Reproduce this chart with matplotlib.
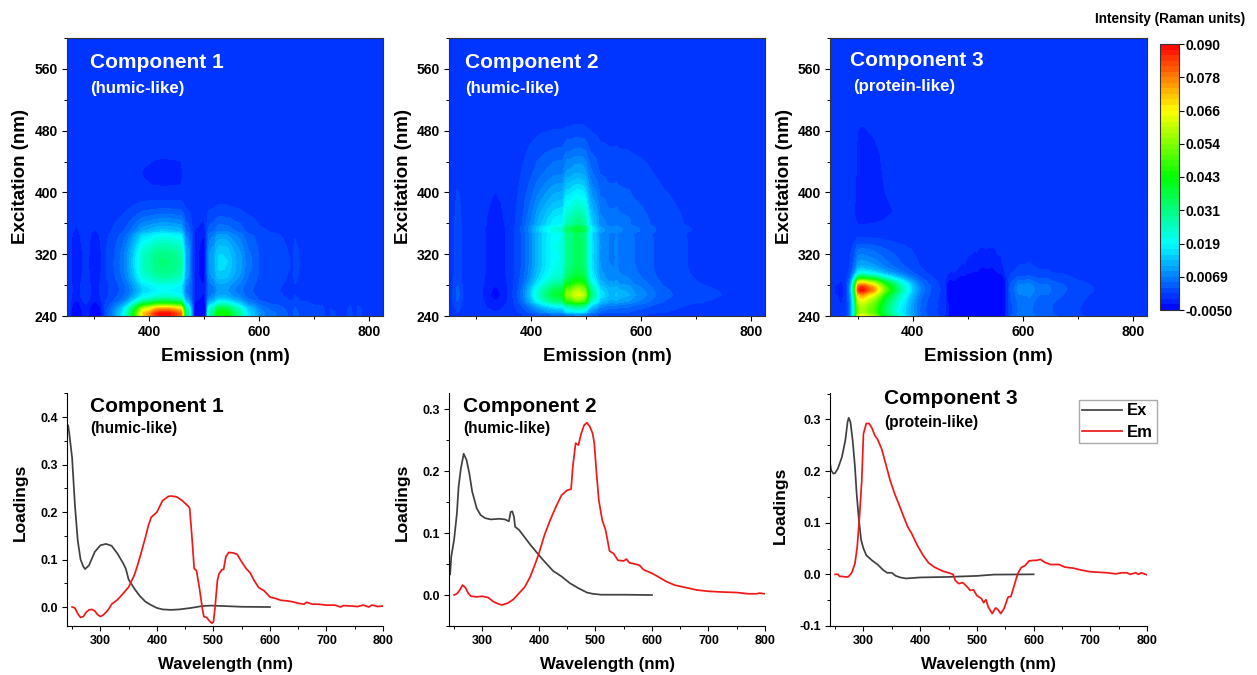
import numpy as np
import matplotlib
matplotlib.use("Agg")
import matplotlib.pyplot as plt
from matplotlib.colors import LinearSegmentedColormap
from matplotlib.ticker import MultipleLocator

plt.rcParams['font.family'] = ['Liberation Sans', 'DejaVu Sans']
plt.rcParams['font.weight'] = 'bold'
plt.rcParams['axes.labelweight'] = 'bold'

W, H = 1257, 675

# Loadings
c1_ex_x = [240, 243, 245, 250, 255, 260, 265, 270, 273, 280, 285, 290, 300, 310, 320, 330, 340, 345, 350, 360,
           370, 380, 390, 400, 410, 425, 440, 460, 480, 495, 520, 550, 600]
c1_ex_y = [.375, .383, .366, .315, .215, .14, .1, .085, .08, .088, .102, .116, .13, .133, .129, .113, .093, .081,
           .058, .039, .023, .011, .004, -.002, -.005, -.006, -.005, -.002, .002, .003, .002, .0005, 0]
c1_em_x = [250, 255, 260, 265, 270, 275, 280, 285, 290, 295, 300, 305, 310, 315, 320, 330, 340, 350, 360, 365,
           370, 380, 385, 390, 400, 410, 420, 425, 435, 445, 455, 458, 462, 466, 470, 475, 480, 483, 488, 492,
           497, 500, 503, 507, 510, 515, 518, 522, 527, 535, 542, 550, 558, 565, 572, 580, 590, 600, 610, 620,
           630, 640, 650, 660, 665, 675, 685, 700, 715, 725, 730, 745, 755, 765, 775, 780, 785, 790, 800]
c1_em_y = [0, -.002, -.014, -.022, -.02, -.011, -.006, -.005, -.008, -.016, -.02, -.017, -.011, -.004, .006, .015,
           .028, .042, .067, .085, .105, .148, .172, .189, .2, .224, .233, .234, .232, .224, .213, .208, .148,
           .081, .077, .042, 0, -.02, -.022, -.028, -.034, -.032, 0, .056, .07, .079, .079, .106, .115, .114,
           .111, .095, .081, .072, .056, .041, .034, .021, .018, .014, .013, .011, .008, .006, .01, .006, .006,
           .004, .004, 0, .003, .002, .001, .004, 0, .004, .003, .001, .002]

c2_ex_x = [240, 243, 245, 250, 255, 258, 262, 267, 272, 277, 282, 290, 297, 305, 315, 330, 340, 347, 350, 353,
           356, 358, 365, 375, 385, 395, 405, 415, 425, 440, 455, 470, 485, 495, 510, 550, 600]
c2_ex_y = [.032, .033, .062, .089, .132, .175, .204, .228, .218, .196, .167, .14, .129, .124, .122, .123, .122,
           .119, .134, .135, .126, .11, .105, .093, .081, .07, .059, .049, .039, .03, .019, .011, .004, .002,
           .0005, .0005, 0]
c2_em_x = [250, 255, 260, 265, 270, 275, 280, 290, 300, 310, 320, 330, 335, 345, 355, 365, 375, 385, 395, 400,
           410, 420, 430, 440, 450, 457, 460, 465, 470, 475, 480, 485, 490, 495, 498, 502, 506, 512, 518, 525,
           532, 540, 550, 555, 560, 570, 578, 585, 600, 610, 625, 640, 660, 680, 700, 720, 750, 770, 785, 790, 800]
c2_em_y = [0, .002, .008, .016, .012, .003, -.002, -.003, -.002, -.004, -.011, -.015, -.016, -.013, -.007, .003,
           .013, .03, .054, .067, .097, .121, .142, .161, .169, .171, .207, .245, .242, .261, .274, .278, .272,
           .261, .245, .196, .153, .121, .105, .071, .067, .056, .055, .058, .052, .05, .048, .041, .035, .03,
           .022, .016, .012, .008, .006, .005, .004, .002, .002, .003, .002]

c3_ex_x = [240, 243, 247, 250, 255, 262, 268, 272, 274, 277, 281, 285, 288, 292, 296, 300, 305, 315, 325, 335,
           342, 350, 357, 365, 375, 400, 450, 500, 530, 600]
c3_ex_y = [.224, .201, .195, .196, .205, .227, .259, .295, .303, .295, .259, .208, .156, .105, .066, .05, .037,
           .027, .019, .008, .003, .003, -.003, -.006, -.008, -.006, -.005, -.003, -.0005, 0]
c3_em_x = [250, 255, 258, 262, 268, 273, 278, 280, 285, 289, 293, 297, 300, 305, 310, 315, 320, 325, 332, 340,
           347, 355, 362, 370, 378, 385, 395, 405, 415, 425, 440, 450, 458, 462, 468, 475, 482, 488, 494, 500,
           508, 512, 516, 520, 527, 533, 537, 542, 548, 555, 560, 566, 572, 578, 585, 592, 600, 605, 612, 620,
           630, 645, 655, 670, 685, 700, 715, 730, 745, 755, 765, 770, 780, 785, 790, 800]
c3_em_y = [0, 0, -.004, -.004, -.005, -.005, .001, .005, .021, .053, .111, .182, .272, .292, .292, .283, .269,
           .261, .243, .211, .182, .156, .137, .114, .092, .079, .056, .037, .022, .014, .006, .003, 0, -.012,
           -.018, -.016, -.023, -.031, -.03, -.041, -.047, -.055, -.049, -.063, -.076, -.065, -.068, -.076,
           -.066, -.044, -.043, -.021, .001, .013, .017, .026, .027, .027, .029, .023, .019, .019, .014, .012,
           .008, .005, .004, .003, .001, .003, .003, 0, .003, 0, .003, -.001]

cbar_labels = ['-0.0050', '0.0069', '0.019', '0.031', '0.043', '0.054', '0.066', '0.078', '0.090']
vmin, vmax = -0.005, 0.09

rainbow = LinearSegmentedColormap.from_list(
    'rb', ['#0000ff', '#00ffff', '#00ff00', '#ffff00', '#ff0000'])


def px_axes(left, top, right, bottom):
    return fig.add_axes([left / W, 1 - bottom / H, (right - left) / W, (bottom - top) / H])


def label_pos(ax, box, xlab_y, ylab_x, ylab_y):
    left, top, right, bottom = box
    ax.xaxis.set_label_coords(0.5, (bottom - xlab_y) / (bottom - top))
    ax.yaxis.set_label_coords((ylab_x - left) / (right - left), (bottom - ylab_y) / (bottom - top))


def note(x, y, s, size, color):
    fig.text(x / W, 1 - y / H, s, fontsize=size, color=color, va='center', ha='left', fontweight='bold')


fig = plt.figure(figsize=(W / 100, H / 100), dpi=100)

levels = np.linspace(vmin, vmax, 49)
bg = rainbow((0 - vmin) / (vmax - vmin))

maps = [
    ((67, 38, 383, 316), c1_ex_x, c1_ex_y, c1_em_x, c1_em_y),
    ((449, 38, 765, 316), c2_ex_x, c2_ex_y, c2_em_x, c2_em_y),
    ((830, 38, 1147, 316), c3_ex_x, c3_ex_y, c3_em_x, c3_em_y),
]
for box, ex_x, ex_y, em_x, em_y in maps:
    ax = px_axes(*box)
    ax.set_facecolor(bg)
    # a PARAFAC component map is the product of its two loadings
    Z = np.clip(np.outer(ex_y, em_y), vmin, vmax)
    cs = ax.contourf(em_x, ex_x, Z, levels=levels, cmap=rainbow)
    ax.set_xlim(250, 825)
    ax.set_ylim(240, 600)
    ax.set_xticks([400, 600, 800])
    ax.set_yticks([240, 320, 400, 480, 560])
    ax.xaxis.set_minor_locator(MultipleLocator(100))
    ax.yaxis.set_minor_locator(MultipleLocator(40))
    ax.tick_params(which='major', length=3.5, width=0.8, labelsize=10, pad=3)
    ax.tick_params(which='minor', length=2, width=0.7)
    for s in ax.spines.values():
        s.set_linewidth(0.8)
        s.set_color('#333333')
    ax.set_xlabel('Emission (nm)', fontsize=13.5, va='center')
    ax.set_ylabel('Excitation (nm)', fontsize=13.5, va='center')
    label_pos(ax, box, 356, box[0] - 46, 177)

note(90, 63, 'Component 1', 15, 'white')
note(90, 89, '(humic-like)', 12.2, 'white')
note(465, 63, 'Component 2', 15, 'white')
note(465, 89, '(humic-like)', 12.2, 'white')
note(850, 61, 'Component 3', 15, 'white')
note(853, 86, '(protein-like)', 12.2, 'white')

# colour bar
cax = px_axes(1160, 44, 1179, 310)
cb = fig.colorbar(cs, cax=cax, ticks=np.linspace(vmin, vmax, 9))
cb.ax.set_yticklabels(cbar_labels)
cb.ax.minorticks_off()
cb.ax.tick_params(length=3.5, width=0.8, labelsize=10, pad=1.5)
cb.outline.set_linewidth(0.8)
cb.outline.set_edgecolor('#333333')
fig.text(1245 / W, 1 - 18.5 / H, 'Intensity (Raman units)', fontsize=9.8, ha='right', va='center')

# loadings
lines = [
    ((67, 393, 383, 626), c1_ex_x, c1_ex_y, c1_em_x, c1_em_y, (-0.04, 0.451), [0, .1, .2, .3, .4], 20, 502),
    ((449, 393, 765, 626), c2_ex_x, c2_ex_y, c2_em_x, c2_em_y, (-0.05, 0.326), [0, .1, .2, .3], 402, 502),
    ((830, 393, 1147, 626), c3_ex_x, c3_ex_y, c3_em_x, c3_em_y, (-0.1, 0.351), [-.1, 0, .1, .2, .3], 780, 505),
]
for box, ex_x, ex_y, em_x, em_y, ylim, yt, ylab_x, ylab_y in lines:
    ax = px_axes(*box)
    l1, = ax.plot(ex_x, ex_y, color='#404040', lw=1.25, label='Ex')
    l2, = ax.plot(em_x, em_y, color='#f01818', lw=1.25, label='Em')
    ax.set_xlim(241, 800)
    ax.set_ylim(*ylim)
    ax.set_xticks([300, 400, 500, 600, 700, 800])
    ax.set_yticks(yt)
    ax.set_yticklabels(['%.1f' % v for v in yt])
    ax.xaxis.set_minor_locator(MultipleLocator(50))
    ax.yaxis.set_minor_locator(MultipleLocator(0.05))
    ax.tick_params(which='major', length=3.5, width=0.8, labelsize=9, pad=3)
    ax.tick_params(which='minor', length=2, width=0.7)
    ax.spines['top'].set_visible(False)
    ax.spines['right'].set_visible(False)
    ax.set_xlabel('Wavelength (nm)', fontsize=12.2, va='center')
    ax.set_ylabel('Loadings', fontsize=12.5, va='center')
    label_pos(ax, box, 664, ylab_x, ylab_y)

note(90, 406, 'Component 1', 15, 'black')
note(90, 429, '(humic-like)', 11.2, 'black')
note(463, 406, 'Component 2', 15, 'black')
note(463, 429, '(humic-like)', 11.2, 'black')
note(884, 398, 'Component 3', 15, 'black')
note(884, 422, '(protein-like)', 11.2, 'black')

fig.legend(handles=[l1, l2], loc='upper left', bbox_to_anchor=(1079 / W, 1 - 400 / H), borderaxespad=0,
           fontsize=12, fancybox=False, edgecolor='#aaaaaa', framealpha=1, handlelength=2.4,
           handletextpad=0.3, labelspacing=0.4, borderpad=0.2)

fig.savefig('out.png', dpi=100)
